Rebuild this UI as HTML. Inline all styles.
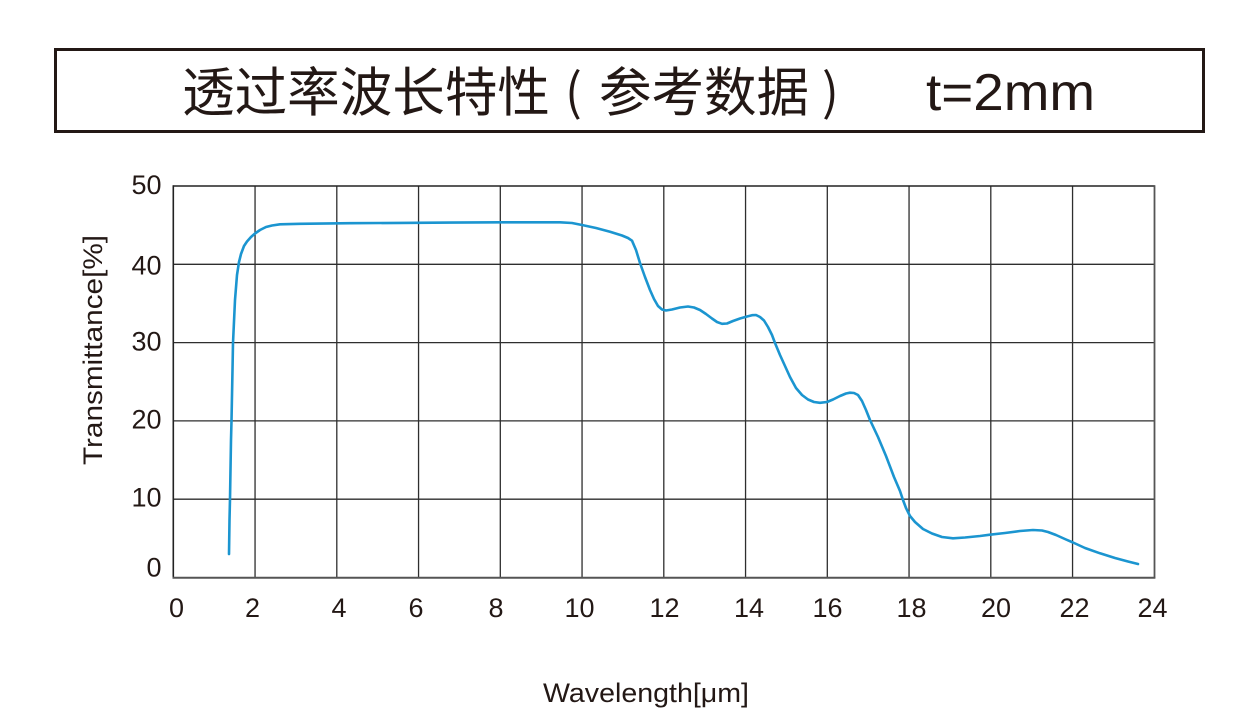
<!DOCTYPE html>
<html>
<head>
<meta charset="utf-8">
<style>
html,body{margin:0;padding:0;background:#fff;}
body{width:1257px;height:717px;overflow:hidden;}
svg{display:block;}
text{font-family:"Liberation Sans","Noto Sans CJK SC",sans-serif;fill:#231815;}
</style>
</head>
<body>
<svg width="1257" height="717" viewBox="0 0 1257 717" xmlns="http://www.w3.org/2000/svg">
  <rect x="0" y="0" width="1257" height="717" fill="#fff"/>
  <!-- Title box -->
  <rect x="55.5" y="49.5" width="1148" height="82" fill="none" stroke="#231815" stroke-width="3"/>
  <text x="182" y="111" font-size="53" textLength="368" lengthAdjust="spacingAndGlyphs" style="font-family:'Noto Sans CJK SC',sans-serif">透过率波长特性</text>
  <text x="565" y="110" font-size="50" style="font-family:'Noto Sans CJK SC',sans-serif">(</text>
  <text x="599" y="111" font-size="53" textLength="210" lengthAdjust="spacingAndGlyphs" style="font-family:'Noto Sans CJK SC',sans-serif">参考数据</text>
  <text x="822" y="110" font-size="50" style="font-family:'Noto Sans CJK SC',sans-serif">)</text>
  <text x="926" y="110" font-size="52" textLength="169" lengthAdjust="spacingAndGlyphs">t=2mm</text>

  <!-- Grid -->
  <g stroke="#2e2e2e" stroke-width="1.3" fill="none">
    <line x1="173.3" y1="264.3" x2="1154.3" y2="264.3"/>
    <line x1="173.3" y1="342.6" x2="1154.3" y2="342.6"/>
    <line x1="173.3" y1="420.9" x2="1154.3" y2="420.9"/>
    <line x1="173.3" y1="499.2" x2="1154.3" y2="499.2"/>
    <line x1="255.05" y1="186" x2="255.05" y2="577.7"/>
    <line x1="336.8" y1="186" x2="336.8" y2="577.7"/>
    <line x1="418.55" y1="186" x2="418.55" y2="577.7"/>
    <line x1="500.3" y1="186" x2="500.3" y2="577.7"/>
    <line x1="582.05" y1="186" x2="582.05" y2="577.7"/>
    <line x1="663.8" y1="186" x2="663.8" y2="577.7"/>
    <line x1="745.55" y1="186" x2="745.55" y2="577.7"/>
    <line x1="827.3" y1="186" x2="827.3" y2="577.7"/>
    <line x1="909.05" y1="186" x2="909.05" y2="577.7"/>
    <line x1="990.8" y1="186" x2="990.8" y2="577.7"/>
    <line x1="1072.55" y1="186" x2="1072.55" y2="577.7"/>
  </g>
  <!-- Frame -->
  <line x1="173.3" y1="186" x2="1154.8" y2="186" stroke="#222" stroke-width="1.6"/>
  <line x1="173.3" y1="185.2" x2="173.3" y2="578.5" stroke="#222" stroke-width="1.6"/>
  <line x1="1154.5" y1="185.2" x2="1154.5" y2="578.5" stroke="#555" stroke-width="1.8"/>
  <line x1="172.5" y1="577.7" x2="1155.3" y2="577.7" stroke="#555" stroke-width="2"/>

  <!-- Curve -->
  <polyline fill="none" stroke="#1b95d0" stroke-width="2.6" stroke-linejoin="round" stroke-linecap="round"
    points="229,554 229.5,520 230,499 231,440 231.5,421 232.5,370 233,343 235,300 237,275 239,262 241,254 244,246 247,241.5 251,237 255,233.5 260,230 266,227 272,225.5 280,224.3 300,223.8 350,223.2 400,222.9 450,222.6 500,222.3 560,222.3 572,223 582,225 596,228 610,231.7 622,235.5 628,238 632,240.7 636,250 640,263 645,277 650,290 654,299 658,306 662,309.5 666,310.5 672,309.5 680,307.5 688,306.5 694,307.5 700,310 706,314 712,318.5 717,322 722,323.8 727,323.5 733,321 740,318.5 747,316.5 752,315.2 756,315 760,317 764,320.5 768,327 772,335 775,343 780,355 785,366 790,377 796,388 802,395 808,399.5 814,402 820,402.8 827,402 833,399.5 840,396 846,393.5 850,392.7 854,393 858,395 862,401 866,410 870,420 878,437 886,456 894,477 900,491 903,500 906,508 910,516 915,522 923,529 932,533.5 942,537 953,538.3 965,537.5 980,536 990,534.7 1005,533 1020,531 1033,530 1042,530.5 1048,532 1056,535 1066,539.5 1073,542.5 1085,548 1100,553.3 1115,558 1128,561.5 1138,564"/>

  <!-- Y tick labels -->
  <g font-size="27" text-anchor="end">
    <text x="161.5" y="194">50</text>
    <text x="161.5" y="274.5">40</text>
    <text x="161.5" y="350.5">30</text>
    <text x="161.5" y="428.5">20</text>
    <text x="161.5" y="506.5">10</text>
    <text x="161.5" y="576.5">0</text>
  </g>
  <!-- X tick labels -->
  <g font-size="27" text-anchor="middle">
    <text x="176.5" y="617">0</text>
    <text x="252.5" y="617">2</text>
    <text x="339" y="617">4</text>
    <text x="416" y="617">6</text>
    <text x="496" y="617">8</text>
    <text x="579.5" y="617">10</text>
    <text x="664.5" y="617">12</text>
    <text x="749" y="617">14</text>
    <text x="827.5" y="617">16</text>
    <text x="911.5" y="617">18</text>
    <text x="996" y="617">20</text>
    <text x="1074.5" y="617">22</text>
    <text x="1152.5" y="617">24</text>
  </g>
  <!-- Axis titles -->
  <text x="543" y="702" font-size="27" textLength="206" lengthAdjust="spacingAndGlyphs">Wavelength[μm]</text>
  <text transform="translate(102,465) rotate(-90)" font-size="27" textLength="230" lengthAdjust="spacingAndGlyphs">Transmittance[%]</text>
</svg>
</body>
</html>
